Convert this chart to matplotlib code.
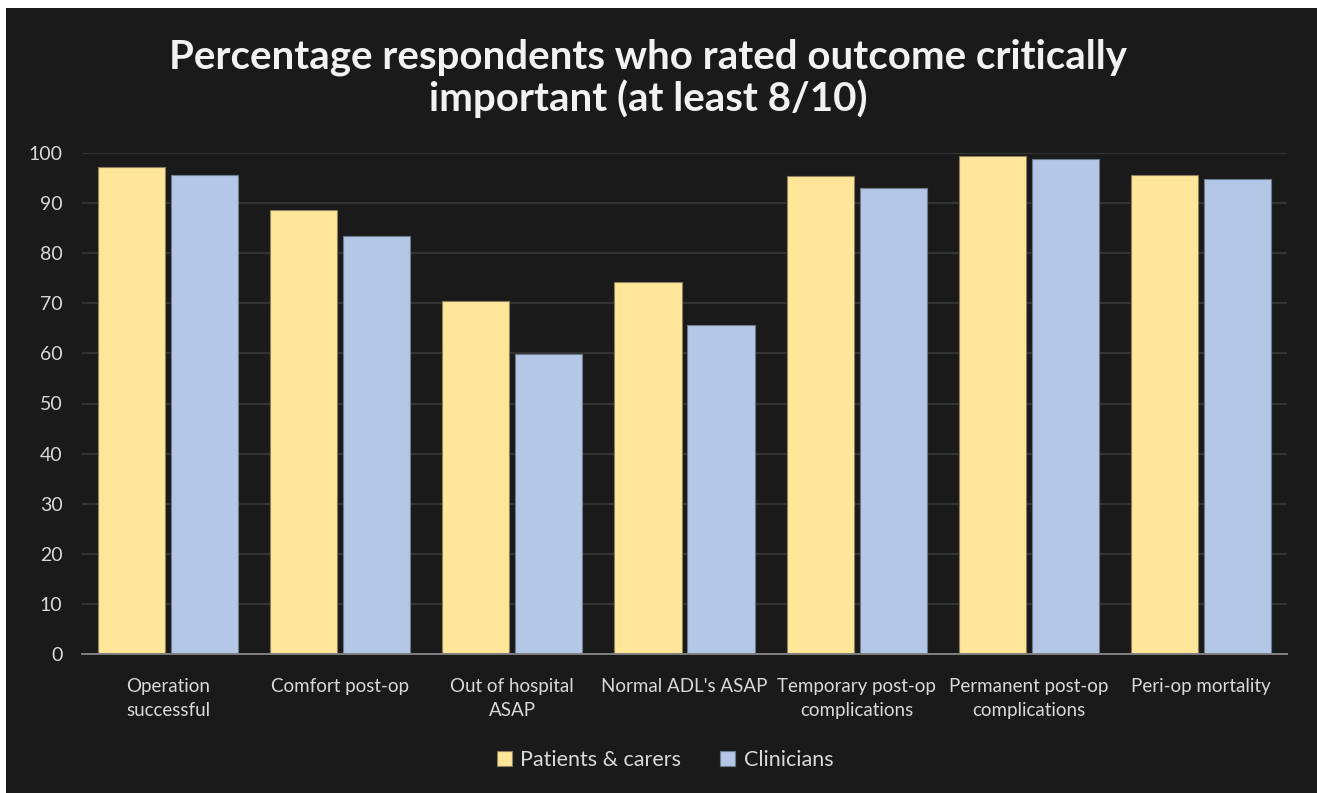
import matplotlib
matplotlib.use("Agg")
import matplotlib.pyplot as plt
import matplotlib.patches as mpatches
import numpy as np

categories = [
    "Operation\nsuccessful",
    "Comfort post-op",
    "Out of hospital\nASAP",
    "Normal ADL's ASAP",
    "Temporary post-op\ncomplications",
    "Permanent post-op\ncomplications",
    "Peri-op mortality",
]
patients_carers = [97.2, 88.6, 70.4, 74.3, 95.5, 99.5, 95.6]
clinicians = [95.6, 83.5, 59.9, 65.6, 93.0, 98.9, 94.8]
series_names = ["Patients & carers", "Clinicians"]
yticks = [0, 10, 20, 30, 40, 50, 60, 70, 80, 90, 100]

BG = "#1a1a1a"
TEXT = "#d9d9d9"
YELLOW = "#ffe699"
BLUE = "#b4c7e7"
FONT = "Lato"

W, H = 1317, 793
fig = plt.figure(figsize=(W / 100, H / 100), dpi=100)
fig.patch.set_facecolor(BG)
# thin white margin along the top and left edges
fig.patches.append(mpatches.Rectangle((0, (H - 8) / H), 1, 8 / H,
                                      transform=fig.transFigure,
                                      facecolor="white", edgecolor="none"))
fig.patches.append(mpatches.Rectangle((0, 0), 6 / W, 1,
                                      transform=fig.transFigure,
                                      facecolor="white", edgecolor="none"))

ax = fig.add_axes([82 / W, 1 - 654 / H, (1287 - 82) / W, (654 - 153) / H])
ax.set_facecolor(BG)

x = np.arange(len(categories))
bw = 0.39
off = 0.212
ax.bar(x - off, patients_carers, bw, color=YELLOW, edgecolor="#8a8060",
       linewidth=0.8, label=series_names[0], zorder=3)
ax.bar(x + off, clinicians, bw, color=BLUE, edgecolor="#6f7a8a",
       linewidth=0.8, label=series_names[1], zorder=3)

ax.set_xlim(-0.5, len(categories) - 0.5)
ax.set_ylim(0, 100)
ax.set_yticks(yticks)
ax.set_yticklabels([str(v) for v in yticks], fontsize=14, color=TEXT, family=FONT)
ax.set_xticks(x)
ax.set_xticklabels(categories, fontsize=13.5, color=TEXT, family=FONT,
                   linespacing=1.5)
ax.tick_params(axis="both", length=0)
ax.tick_params(axis="y", pad=14)
ax.tick_params(axis="x", pad=17)

ax.grid(axis="y", color="#333333", linewidth=1.6, zorder=0)
ax.set_axisbelow(True)
for s in ["top", "right", "left"]:
    ax.spines[s].set_visible(False)
ax.spines["bottom"].set_color("#808080")
ax.spines["bottom"].set_linewidth(1.4)
ax.spines["bottom"].set_zorder(4)

fig.text(648 / W, 1 - 78 / H,
         "Percentage respondents who rated outcome critically\nimportant (at least 8/10)",
         ha="center", va="center", fontsize=29, fontweight="bold",
         color="#f2f2f2", family=FONT, linespacing=1.12)

leg = fig.legend(loc="center", bbox_to_anchor=(665 / W, 1 - 760 / H), ncol=2,
                 frameon=False, handlelength=0.7, handleheight=0.7,
                 handletextpad=0.4, columnspacing=1.8,
                 prop={"family": FONT, "size": 15.5})
for t in leg.get_texts():
    t.set_color(TEXT)

fig.savefig("out.png", dpi=100, facecolor=fig.get_facecolor())
